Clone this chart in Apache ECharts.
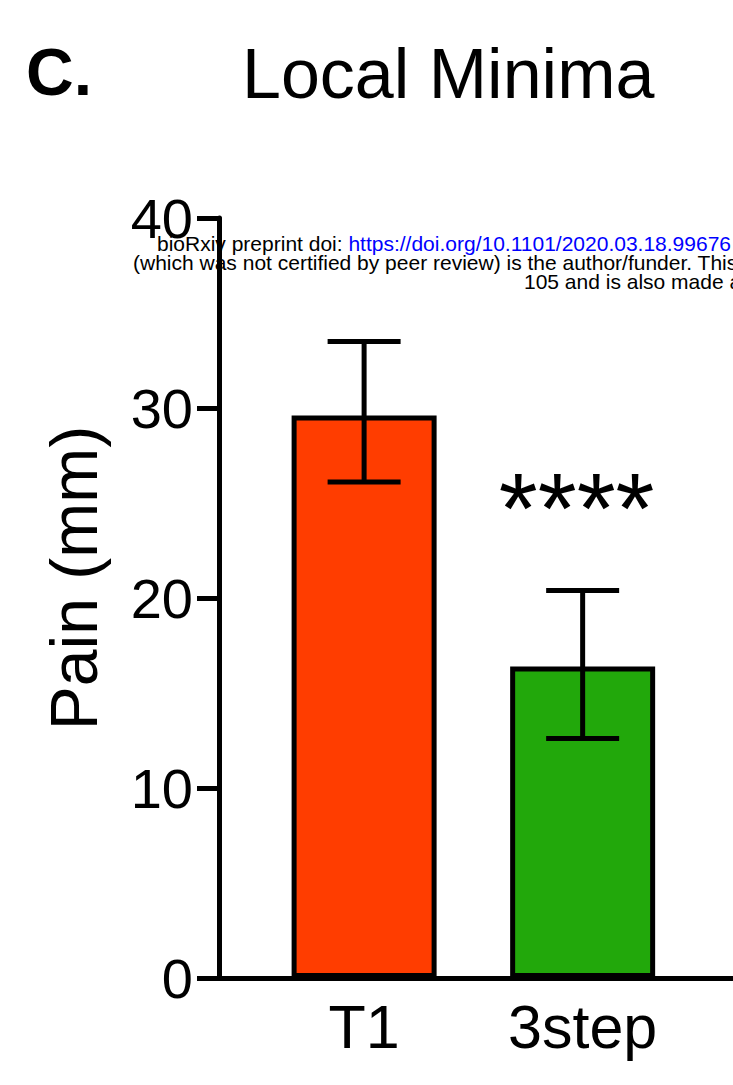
<!DOCTYPE html>
<html><head><meta charset="utf-8">
<script src="https://cdn.jsdelivr.net/npm/echarts@6/dist/echarts.min.js"></script>
<style>html,body{margin:0;padding:0;background:#fff}#c{width:733px;height:1085px}</style>
</head><body><div id="c"></div>
<script>
// ---- data ----
const categories = ['T1', '3step'];
const positions = [1, 2];
const means = [29.6, 16.4];
const errLow = [26.1, 12.6];
const errHigh = [33.5, 20.4];
const significance = ['', '****'];
const barColors = ['#FF3D00', '#22A80B'];
const yTickValues = [0, 10, 20, 30, 40];

const FONT = '"Liberation Sans", Arial, Helvetica, sans-serif';
const chart = echarts.init(document.getElementById('c'), null, {renderer: 'svg'});

chart.setOption({
  animation: false,
  backgroundColor: '#ffffff',
  title: [
    {text: 'C.', left: 21, top: 34, textStyle: {fontFamily: FONT, fontWeight: 'bold', fontSize: 66, color: '#000'}},
    {text: 'Local Minima', left: 237, top: 34, textStyle: {fontFamily: FONT, fontWeight: 'normal', fontSize: 70, color: '#000'}}
  ],
  grid: {left: 219, right: 0, top: 218, bottom: 107, containLabel: false},
  xAxis: {
    type: 'value', min: 0.336, max: 2.688,
    splitLine: {show: false}, axisTick: {show: false},
    axisLine: {show: true, onZero: false, lineStyle: {color: '#000', width: 5}},
    axisLabel: {
      show: true, margin: 18, fontSize: 61, fontFamily: FONT, color: '#000',
      showMinLabel: false, showMaxLabel: false,
      formatter: function (v) {
        const i = positions.indexOf(Math.round(v * 1000) / 1000);
        return i >= 0 ? categories[i] : '';
      }
    }
  },
  yAxis: {
    type: 'value', min: yTickValues[0], max: yTickValues[yTickValues.length - 1], interval: 10,
    splitLine: {show: false},
    axisLine: {show: true, onZero: false, lineStyle: {color: '#000', width: 5}},
    axisTick: {show: true, length: 22, lineStyle: {color: '#000', width: 5}},
    axisLabel: {fontSize: 56, margin: 26, fontFamily: FONT, color: '#000'},
    name: 'Pain (mm)', nameLocation: 'middle', nameGap: 112,
    nameTextStyle: {fontSize: 66, fontFamily: FONT, color: '#000', padding: [0, 0, 0, 40]}
  },
  series: [
    {
      type: 'bar', barWidth: 145,
      data: categories.map((c, i) => ({value: [positions[i], means[i]], itemStyle: {color: barColors[i]}})),
      itemStyle: {borderColor: '#000', borderWidth: 5},
      z: 2
    },
    {
      type: 'custom', z: 5,
      data: categories.map((c, i) => [positions[i], errLow[i], errHigh[i]]),
      renderItem: function (params, api) {
        const x = api.value(0), lo = api.value(1), hi = api.value(2);
        const pHi = api.coord([x, hi]), pLo = api.coord([x, lo]);
        const half = 36.5;
        const st = {stroke: '#000', lineWidth: 5, fill: null};
        const children = [
          {type: 'line', shape: {x1: pHi[0], y1: pHi[1], x2: pLo[0], y2: pLo[1]}, style: st},
          {type: 'line', shape: {x1: pHi[0] - half, y1: pHi[1], x2: pHi[0] + half, y2: pHi[1]}, style: st},
          {type: 'line', shape: {x1: pLo[0] - half, y1: pLo[1], x2: pLo[0] + half, y2: pLo[1]}, style: st}
        ];
        const sig = significance[params.dataIndex];
        if (sig) {
          children.push({type: 'text', x: pHi[0] - 6, y: pHi[1] - 82,
            style: {text: sig, fontSize: 100, fontFamily: FONT, fill: '#000', align: 'center', verticalAlign: 'middle'}});
        }
        return {type: 'group', children: children};
      }
    }
  ],
  graphic: [
    {type: 'text', left: 157, top: 233, z: 100,
     style: {text: '{k|bioRxiv preprint doi: }{l|https://doi.org/10.1101/2020.03.18.99676}', font: '21px ' + FONT, lineHeight: 19,
       rich: {k: {fill: '#000', fontSize: 21, fontFamily: FONT, lineHeight: 19}, l: {fill: '#0000ff', fontSize: 21, fontFamily: FONT, lineHeight: 19}}}},
    {type: 'text', left: 133, top: 252, z: 100,
     style: {text: '(which was not certified by peer review) is the author/funder. This', fill: '#000', fontSize: 21, lineHeight: 19, fontFamily: FONT}},
    {type: 'text', left: 524, top: 271, z: 100,
     style: {text: '105 and is also made av', fill: '#000', fontSize: 21, lineHeight: 19, fontFamily: FONT}}
  ]
});
</script>
</body></html>
